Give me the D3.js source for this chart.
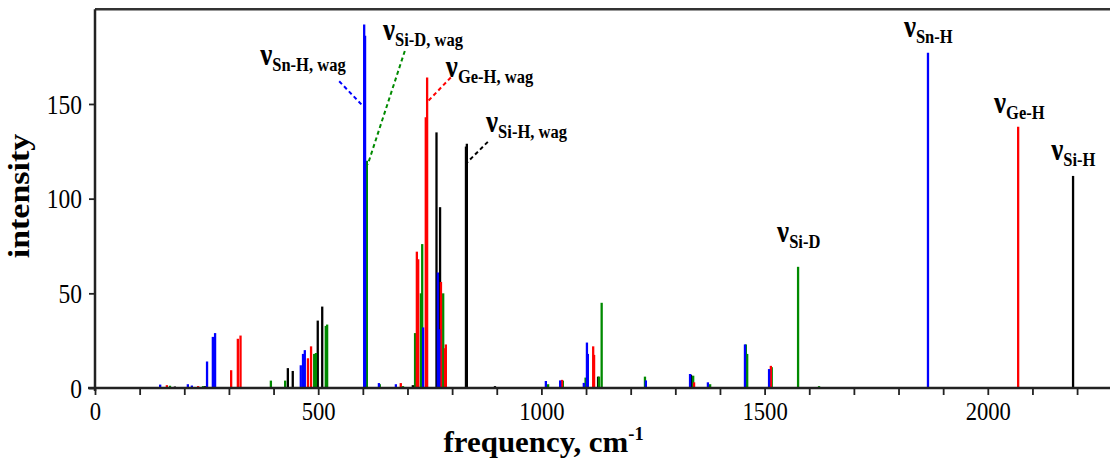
<!DOCTYPE html>
<html>
<head>
<meta charset="utf-8">
<script src="https://cdn.jsdelivr.net/npm/d3@7"></script>
<style>
  body { margin: 0; background: #fff; }
  svg { display: block; }
  text { font-family: "Liberation Serif", "Times New Roman", serif; fill: #000; }
</style>
</head>
<body>
<div id="chart"></div>
<script>
// computed spectra: [frequency (cm-1), intensity]
var snH = [[146,1.8],[208,2],[217,1.3],[251,14],[264,27],[269,29],[461,12],[466,18],[470,20],
  [603,192],[605,186],[636,2.6],[674,2],[735,32],[768,61],[771,31],[1010,3.7],[1042,4],
  [1095,2.7],[1102,24],[1104,18],[1234,4],[1333,7.4],[1373,3],[1456,23],[1510,10],[1866,177]];
var geH = [[161,1.5],[231,1],[305,9.4],[320,26],[326,27.7],[477,15.7],[484,22],[685,2.6],
  [721,72],[724,68],[741,143],[744,164],[775,56],[784,21],[786,23],[1046,4.3],[1116,22],
  [1118,17.5],[1342,3],[1514,11.7],[2068,138]];
var siH = [[179,0.8],[246,1],[432,10.5],[443,9],[499,35.6],[509,43],[712,1.5],[765,135],
  [773,95.5],[831,127.5],[833,129],[896,1],[1127,6],[1335,7],[2191,112]];
var siD = [[168,1.2],[242,1],[394,3.9],[407,0.5],[426,3.9],[491,18],[495,18.5],[517,32.8],
  [520,33.5],[608,118],[609,120],[638,2],[690,1],[717,29],[730,50],[733,76],[780,50],[782,15],
  [1015,2],[1048,3.9],[1099,5.5],[1129,6],[1135,45],[1232,6],[1340,6.5],[1378,2],[1458,23],
  [1461,18],[1516,11],[1575,64],[1622,1]];

var series = [
  {name: "Si-H", values: siH, color: "#000000"},
  {name: "Si-D", values: siD, color: "#008a00"},
  {name: "Ge-H", values: geH, color: "#ff0000"},
  {name: "Sn-H", values: snH, color: "#0000ff"}
];

var xTicks = d3.range(0, 2301, 100);
var xLabels = [0, 500, 1000, 1500, 2000];
var yTicks = [0, 50, 100, 150];

// peak labels, anchored in data units (frequency, intensity)
var peakLabels = [
  {sub: "Sn-H, wag", f: 370, i: 170.6},
  {sub: "Si-D, wag", f: 645, i: 183.8},
  {sub: "Ge-H, wag", f: 786, i: 164.3},
  {sub: "Si-H, wag", f: 876, i: 135.2},
  {sub: "Sn-H", f: 1812, i: 185.4},
  {sub: "Ge-H", f: 2014, i: 145.2},
  {sub: "Si-H", f: 2142, i: 120.4},
  {sub: "Si-D", f: 1528, i: 77.1}
];
// dashed leaders from label to peak
var leaders = [
  {f1: 547, i1: 162, f2: 600, i2: 149, color: "#0000ff"},
  {f1: 694, i1: 178, f2: 611, i2: 118, color: "#008a00"},
  {f1: 797, i1: 164, f2: 744, i2: 151, color: "#ff0000"},
  {f1: 880, i1: 130, f2: 833, i2: 119, color: "#000000"}
];

var width = 1110, height = 459;
var sx = 0.87; // the figure is slightly squeezed horizontally

var svg = d3.select("#chart").append("svg")
  .attr("width", width)
  .attr("height", height);

var x = d3.scaleLinear().domain([0, 2300]).range([95, 95 + 2300 * 0.4464]);
var y = d3.scaleLinear().domain([0, 200]).range([388, 9.3]);

// bars
series.forEach(function(s){
  svg.append("g").selectAll("line")
    .data(s.values)
    .enter()
    .append("line")
    .attr("x1", function(d){ return x(d[0]); })
    .attr("x2", function(d){ return x(d[0]); })
    .attr("y1", y(0))
    .attr("y2", function(d){ return y(d[1]); })
    .attr("stroke", s.color)
    .attr("stroke-width", 2.3);
});

// frame: top line
svg.append("line")
  .attr("x1", x(0)).attr("x2", width)
  .attr("y1", y(200)).attr("y2", y(200))
  .attr("stroke", "#333").attr("stroke-width", 2.5);

// x axis
var xAxis = svg.append("g")
  .attr("transform", "translate(0," + y(0) + ")")
  .call(d3.axisBottom(x).tickValues(xTicks).tickSizeOuter(0).tickSize(7)
    .tickFormat(function(d){ return xLabels.indexOf(d) >= 0 ? d : ""; }));
xAxis.select(".domain").attr("d", "M88,0H" + width).attr("stroke", "#222").attr("stroke-width", 2.5);
xAxis.selectAll(".tick line").attr("stroke", "#222").attr("stroke-width", 1.8);
xAxis.selectAll(".tick text")
  .attr("y", 32).attr("dy", 0)
  .attr("transform", "scale(" + sx + ",1)")
  .style("font-size", "26px");

// y axis
var yAxis = svg.append("g")
  .attr("transform", "translate(" + x(0) + ",0)")
  .call(d3.axisLeft(y).tickValues(yTicks).tickSizeOuter(0).tickSize(6));
yAxis.select(".domain").attr("d", "M0," + (y(0) + 3) + "V" + y(200)).attr("stroke", "#222").attr("stroke-width", 2.5);
yAxis.selectAll(".tick line").attr("stroke", "#222").attr("stroke-width", 1.8);
yAxis.selectAll(".tick text")
  .attr("x", -13 / sx).attr("dy", "0.34em")
  .attr("transform", "scale(" + sx + ",1)")
  .style("font-size", "27px");

// axis titles
svg.append("g")
  .attr("transform", "translate(29,196) scale(" + sx + ",1) rotate(-90)")
  .append("text")
  .attr("text-anchor", "middle")
  .style("font-size", "34px").style("font-weight", "bold")
  .text("intensity");

var xt = svg.append("g")
  .attr("transform", "translate(" + x(1005) + ",452) scale(1.03,1)")
  .append("text")
  .attr("text-anchor", "middle")
  .style("font-size", "30px").style("font-weight", "bold");
xt.append("tspan").text("frequency, cm");
xt.append("tspan").attr("dy", -12).style("font-size", "18px").text("-1");

// leaders
svg.append("g").selectAll("line")
  .data(leaders)
  .enter()
  .append("line")
  .attr("x1", function(d){ return x(d.f1); })
  .attr("y1", function(d){ return y(d.i1); })
  .attr("x2", function(d){ return x(d.f2); })
  .attr("y2", function(d){ return y(d.i2); })
  .attr("stroke", function(d){ return d.color; })
  .attr("stroke-width", 2)
  .attr("stroke-dasharray", "4,3");

// peak labels
peakLabels.forEach(function(d){
  var t = svg.append("g")
    .attr("transform", "translate(" + x(d.f) + "," + y(d.i) + ") scale(" + sx + ",1)")
    .append("text")
    .style("font-weight", "bold");
  t.append("tspan").style("font-size", "31px").text("ν");
  t.append("tspan").attr("dy", 6).style("font-size", "19px").text(d.sub);
});
</script>
</body>
</html>
